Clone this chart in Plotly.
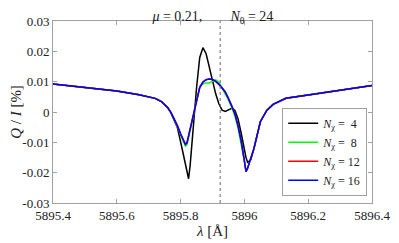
import plotly.graph_objects as go

wavelength = [5895.40, 5895.50, 5895.60, 5895.67, 5895.70, 5895.72, 5895.74, 5895.76,
              5895.77, 5895.78, 5895.79, 5895.80, 5895.81, 5895.815, 5895.82, 5895.825,
              5895.83, 5895.835, 5895.84, 5895.85, 5895.86, 5895.87, 5895.88, 5895.89,
              5895.90, 5895.91, 5895.92, 5895.93, 5895.94, 5895.95, 5895.96, 5895.97,
              5895.98, 5895.99, 5896.00, 5896.005, 5896.01, 5896.02, 5896.03, 5896.05,
              5896.07, 5896.09, 5896.13, 5896.20, 5896.30, 5896.40]

q_n4 = [0.0092, 0.0081, 0.0069, 0.0057, 0.0051, 0.0045, 0.0034, 0.0014,
        -0.0004, -0.0026, -0.0052, -0.0098, -0.0148, -0.0178, -0.0205, -0.0220,
        -0.0175, -0.0110, -0.0040, 0.0080, 0.0180, 0.0212, 0.0192, 0.0146,
        0.0100, 0.0060, 0.0027, 0.0006, 0.0002, 0.0006, 0.0012, 0.0006,
        -0.0022, -0.0070, -0.0125, -0.0150, -0.0166, -0.0158, -0.0120, -0.0032,
        0.0005, 0.0025, 0.0045, 0.0056, 0.0072, 0.0087]

q_n8 = [0.0092, 0.0081, 0.0069, 0.0057, 0.0051, 0.0045, 0.0034, 0.0014,
        -0.0003, -0.0024, -0.0048, -0.0076, -0.0104, -0.0112, -0.0108, -0.0085,
        -0.0055, -0.0035, -0.0015, 0.0038, 0.0082, 0.0093, 0.0096, 0.0096,
        0.0102, 0.0106, 0.0098, 0.0080, 0.0062, 0.0040, 0.0016, -0.0013,
        -0.0052, -0.0102, -0.0163, -0.0195, -0.0186, -0.0152, -0.0120, -0.0032,
        0.0005, 0.0025, 0.0045, 0.0056, 0.0072, 0.0087]

q_n12 = [0.0092, 0.0081, 0.0069, 0.0057, 0.0051, 0.0045, 0.0034, 0.0014,
         -0.0002, -0.0022, -0.0045, -0.0072, -0.0098, -0.0106, -0.0101, -0.0078,
         -0.0050, -0.0032, -0.0012, 0.0037, 0.0083, 0.0100, 0.0107, 0.0109,
         0.0107, 0.0101, 0.0092, 0.0080, 0.0066, 0.0045, 0.0022, -0.0005,
         -0.0045, -0.0095, -0.0160, -0.0197, -0.0185, -0.0150, -0.0120, -0.0032,
         0.0005, 0.0025, 0.0045, 0.0056, 0.0072, 0.0087]

q_n16 = [0.0092, 0.0081, 0.0069, 0.0057, 0.0051, 0.0045, 0.0034, 0.0014,
         -0.0002, -0.0022, -0.0045, -0.0072, -0.0098, -0.0107, -0.0102, -0.0078,
         -0.0050, -0.0032, -0.0012, 0.0035, 0.0080, 0.0098, 0.0106, 0.0109,
         0.0107, 0.0101, 0.0092, 0.0080, 0.0066, 0.0045, 0.0022, -0.0005,
         -0.0045, -0.0095, -0.0160, -0.0197, -0.0185, -0.0150, -0.0120, -0.0032,
         0.0005, 0.0025, 0.0045, 0.0056, 0.0072, 0.0087]

line_center = 5895.924

x_ticks = [5895.4, 5895.6, 5895.8, 5896.0, 5896.2, 5896.4]
x_tick_labels = ["5895.4", "5895.6", "5895.8", "5896", "5896.2", "5896.4"]
y_ticks = [-0.03, -0.02, -0.01, 0, 0.01, 0.02, 0.03]
y_tick_labels = ["-0.03", "-0.02", "-0.01", "0", "0.01", "0.02", "0.03"]

series = [
    ("<i>N</i><sub>χ</sub> =  4", q_n4, "black"),
    ("<i>N</i><sub>χ</sub> =  8", q_n8, "#00ff00"),
    ("<i>N</i><sub>χ</sub> = 12", q_n12, "#ff0000"),
    ("<i>N</i><sub>χ</sub> = 16", q_n16, "#0000ff"),
]

FONT = "Liberation Serif, DejaVu Serif, serif"

fig = go.Figure()
for name, ys, color in series:
    fig.add_trace(go.Scatter(x=wavelength, y=ys, mode="lines", name=name,
                             line=dict(color=color, width=1.5)))

fig.add_shape(type="line", x0=line_center, x1=line_center, y0=0, y1=1,
              xref="x", yref="paper", line=dict(color="#666666", width=1, dash="dot"))

axis_common = dict(showgrid=False, zeroline=False, showline=True, linecolor="#a0a0a0",
                   linewidth=1, mirror="ticks", ticks="inside", ticklen=4,
                   tickcolor="#a0a0a0", tickfont=dict(family=FONT, size=13, color="#222"))

# page body has an 8px margin, so the figure is drawn 8px in from the window corner
fig.update_layout(
    width=391, height=235,
    margin=dict(l=45, r=27, t=13, b=40, autoexpand=False),
    paper_bgcolor="white", plot_bgcolor="white",
    font=dict(family=FONT, color="#222", size=13),
    title=dict(text="<i>μ</i> = 0.21,        <i>N</i><sub>θ</sub> = 24",
               x=0.524, xanchor="center", y=0.985, yanchor="top",
               font=dict(family=FONT, size=14, color="#222")),
    xaxis=dict(range=[5895.4, 5896.4], tickvals=x_ticks, ticktext=x_tick_labels,
               title=dict(text="<i>λ</i> [Å]", font=dict(family=FONT, size=15), standoff=2),
               **axis_common),
    yaxis=dict(range=[-0.03, 0.03], tickvals=y_ticks, ticktext=y_tick_labels,
               title=dict(text="<i>Q</i> / <i>I</i> [%]", font=dict(family=FONT, size=15), standoff=2),
               **axis_common),
    legend=dict(x=0.985, xanchor="right", y=0.04, yanchor="bottom",
                bgcolor="white", bordercolor="#a0a0a0", borderwidth=1,
                font=dict(family=FONT, size=12, color="#222"),
                tracegroupgap=0, itemwidth=30),
    showlegend=True,
)

fig.write_html("out.html")
